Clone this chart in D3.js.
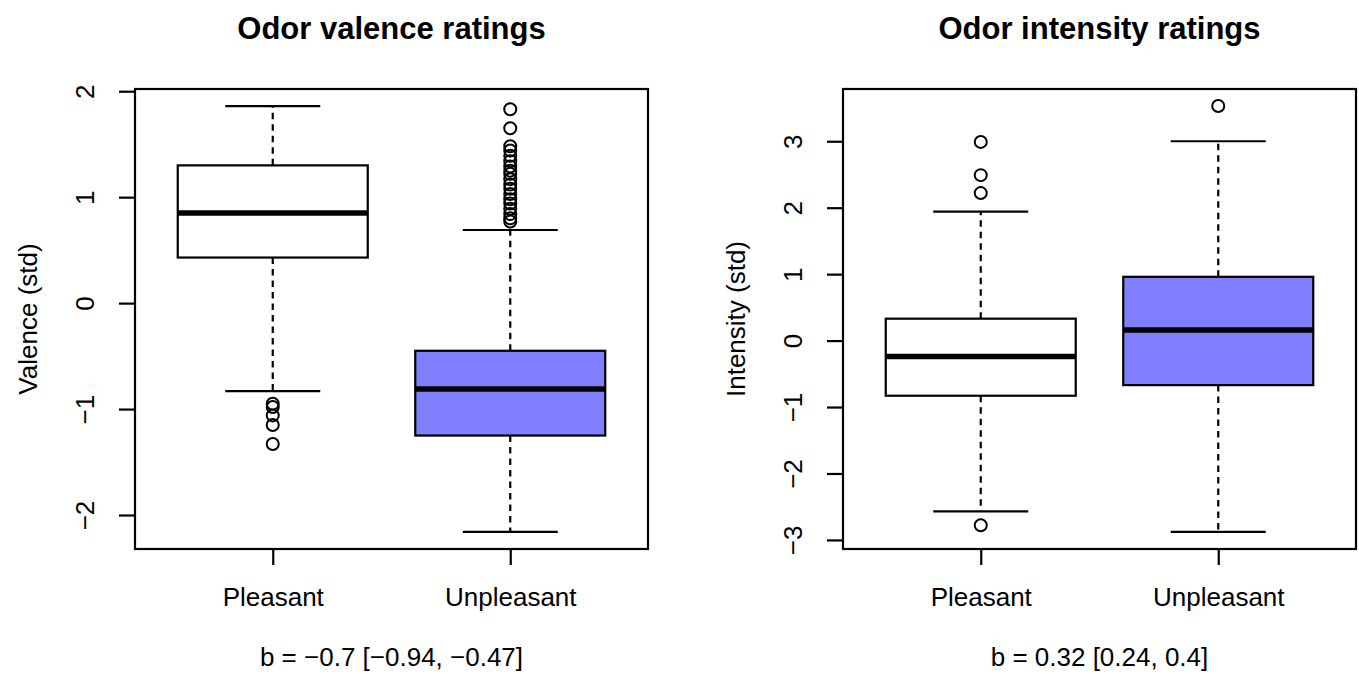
<!DOCTYPE html>
<html>
<head>
<meta charset="utf-8">
<title>Odor ratings</title>
<script src="https://cdn.jsdelivr.net/npm/d3@7"></script>
<style>
	body { margin: 0; background: #fff; }
	svg text { font-family: 'Liberation Sans', Arial, Helvetica, sans-serif; fill: #000; }
</style>
</head>
<body>
<svg id="chart"></svg>
<script>
/* global d3 */

// Groups, shared by both panels.
const groupLabels = [ 'Pleasant', 'Unpleasant' ];

// Valence panel: five-number summaries per group (Pleasant, Unpleasant).
const valenceLowerWhisker = [ -0.83, -2.16 ];
const valenceQ1 = [ 0.43, -1.25 ];
const valenceMedian = [ 0.85, -0.81 ];
const valenceQ3 = [ 1.30, -0.45 ];
const valenceUpperWhisker = [ 1.86, 0.69 ];
const valencePleasantOutliers = [ -0.95, -0.98, -1.06, -1.15, -1.33 ];
const valenceUnpleasantOutliers = [
	1.83, 1.65, 1.48, 1.44, 1.39, 1.34, 1.29, 1.25, 1.22, 1.17,
	1.12, 1.08, 1.03, 0.98, 0.94, 0.89, 0.84, 0.80, 0.77,
];
const valenceTicks = [ -2, -1, 0, 1, 2 ];

// Intensity panel.
const intensityLowerWhisker = [ -2.57, -2.88 ];
const intensityQ1 = [ -0.83, -0.67 ];
const intensityMedian = [ -0.24, 0.16 ];
const intensityQ3 = [ 0.33, 0.96 ];
const intensityUpperWhisker = [ 1.94, 3.0 ];
const intensityPleasantOutliers = [ 2.99, 2.49, 2.22, -2.78 ];
const intensityUnpleasantOutliers = [ 3.53 ];
const intensityTicks = [ -3, -2, -1, 0, 1, 2, 3 ];

/**
 * Single R-style boxplot panel
 */
class BoxplotPanel {
	/**
	 * @param {Object} svg     - D3 selection of the root svg
	 * @param {Object} options - Panel data and labels
	 */
	constructor( svg, options ) {
		this.svg = svg;
		this.options = options;
		this.config = {
			top: 89,
			bottom: 549,
			width: 513,
			boxWex: 0.8,
			fills: [ '#ffffff', '#8080ff' ],
		};

		this.g = svg.append( 'g' )
			.attr( 'transform', `translate(${ options.left },0)` );

		this.setupScales();
		this.renderBoxes();
		this.renderAxes();
		this.renderLabels();
	}

	/**
	 * Scales padded by 4% like R does
	 */
	setupScales() {
		const { top, bottom, width } = this.config;
		const groups = this.options.groups;
		const values = groups.flatMap( ( d ) => [ d.lo, d.hi, ...d.outliers ] );
		const [ min, max ] = d3.extent( values );
		const pad = ( max - min ) * 0.04;

		this.y = d3.scaleLinear()
			.domain( [ min - pad, max + pad ] )
			.range( [ bottom, top ] );

		this.x = d3.scaleLinear()
			.domain( [ 0.42, groups.length + 0.58 ] )
			.range( [ 0, width ] );
	}

	/**
	 * Boxes, whiskers, staples and outliers
	 */
	renderBoxes() {
		const { boxWex, fills } = this.config;
		const x = this.x;
		const y = this.y;
		const half = ( x( 1 + boxWex ) - x( 1 ) ) / 2;

		const box = this.g.selectAll( 'g.box' )
			.data( this.options.groups )
			.enter()
			.append( 'g' )
			.attr( 'class', 'box' );

		// dashed whiskers
		[ [ 'q3', 'hi' ], [ 'q1', 'lo' ] ].forEach( ( [ from, to ] ) => {
			box.append( 'line' )
				.attr( 'x1', ( d ) => x( d.pos ) )
				.attr( 'x2', ( d ) => x( d.pos ) )
				.attr( 'y1', ( d ) => y( d[ from ] ) )
				.attr( 'y2', ( d ) => y( d[ to ] ) )
				.attr( 'stroke', '#000' )
				.attr( 'stroke-width', 2.2 )
				.attr( 'stroke-dasharray', '6.5,5' );

			box.append( 'line' )
				.attr( 'x1', ( d ) => x( d.pos ) - half / 2 )
				.attr( 'x2', ( d ) => x( d.pos ) + half / 2 )
				.attr( 'y1', ( d ) => y( d[ to ] ) )
				.attr( 'y2', ( d ) => y( d[ to ] ) )
				.attr( 'stroke', '#000' )
				.attr( 'stroke-width', 2.2 );
		} );

		box.append( 'rect' )
			.attr( 'x', ( d ) => x( d.pos ) - half )
			.attr( 'y', ( d ) => y( d.q3 ) )
			.attr( 'width', half * 2 )
			.attr( 'height', ( d ) => y( d.q1 ) - y( d.q3 ) )
			.attr( 'fill', ( d, i ) => fills[ i ] )
			.attr( 'stroke', '#000' )
			.attr( 'stroke-width', 2.2 );

		box.append( 'line' )
			.attr( 'x1', ( d ) => x( d.pos ) - half )
			.attr( 'x2', ( d ) => x( d.pos ) + half )
			.attr( 'y1', ( d ) => y( d.med ) )
			.attr( 'y2', ( d ) => y( d.med ) )
			.attr( 'stroke', '#000' )
			.attr( 'stroke-width', 5.5 );

		box.selectAll( 'circle' )
			.data( ( d ) => d.outliers.map( ( v ) => ( { pos: d.pos, v } ) ) )
			.enter()
			.append( 'circle' )
			.attr( 'cx', ( d ) => x( d.pos ) )
			.attr( 'cy', ( d ) => y( d.v ) )
			.attr( 'r', 6 )
			.attr( 'fill', 'none' )
			.attr( 'stroke', '#000' )
			.attr( 'stroke-width', 2 );
	}

	/**
	 * Frame and both axes
	 */
	renderAxes() {
		const { top, bottom, width } = this.config;
		const groups = this.options.groups;

		this.g.append( 'rect' )
			.attr( 'x', 0 )
			.attr( 'y', top )
			.attr( 'width', width )
			.attr( 'height', bottom - top )
			.attr( 'fill', 'none' )
			.attr( 'stroke', '#000' )
			.attr( 'stroke-width', 2.2 );

		const yAxis = this.g.append( 'g' )
			.call( d3.axisLeft( this.y )
				.tickValues( this.options.ticks )
				.tickFormat( d3.format( 'd' ) )
				.tickSize( 16 )
				.tickSizeOuter( 0 ) );

		yAxis.select( '.domain' ).remove();
		yAxis.selectAll( 'line' ).attr( 'stroke-width', 2.2 );
		yAxis.selectAll( 'text' )
			.attr( 'x', null )
			.attr( 'dy', '0.36em' )
			.attr( 'transform', 'translate(-50,0) rotate(-90)' )
			.attr( 'text-anchor', 'middle' )
			.style( 'font-size', '26px' )
			.style( 'font-family', null );

		const xAxis = this.g.append( 'g' )
			.attr( 'transform', `translate(0,${ bottom })` )
			.call( d3.axisBottom( this.x )
				.tickValues( groups.map( ( d ) => d.pos ) )
				.tickFormat( ( d, i ) => groups[ i ].label )
				.tickSize( 16 )
				.tickPadding( 23 )
				.tickSizeOuter( 0 ) );

		xAxis.select( '.domain' ).remove();
		xAxis.selectAll( 'line' ).attr( 'stroke-width', 2.2 );
		xAxis.selectAll( 'text' )
			.style( 'font-size', '26px' )
			.style( 'font-family', null );
	}

	/**
	 * Title, y label and the estimate line under the plot
	 */
	renderLabels() {
		const { top, bottom, width } = this.config;
		const mid = width / 2;

		this.g.append( 'text' )
			.attr( 'x', mid )
			.attr( 'y', 39 )
			.attr( 'text-anchor', 'middle' )
			.style( 'font-size', '31px' )
			.style( 'font-weight', 'bold' )
			.text( this.options.title );

		this.g.append( 'text' )
			.attr( 'transform', `translate(-107,${ ( top + bottom ) / 2 }) rotate(-90)` )
			.attr( 'dy', '0.36em' )
			.attr( 'text-anchor', 'middle' )
			.style( 'font-size', '26px' )
			.text( this.options.yLabel );

		this.g.append( 'text' )
			.attr( 'x', mid )
			.attr( 'y', 666 )
			.attr( 'text-anchor', 'middle' )
			.style( 'font-size', '26px' )
			.text( this.options.note );
	}
}

/**
 * Build per-group records from the flat arrays
 *
 * @param {Array} lo       - Lower whisker ends
 * @param {Array} q1       - First quartiles
 * @param {Array} med      - Medians
 * @param {Array} q3       - Third quartiles
 * @param {Array} hi       - Upper whisker ends
 * @param {Array} outliers - Outlier arrays, one per group
 * @return {Array} groups
 */
function buildGroups( lo, q1, med, q3, hi, outliers ) {
	return groupLabels.map( ( label, i ) => ( {
		label,
		pos: i + 1,
		lo: lo[ i ],
		q1: q1[ i ],
		med: med[ i ],
		q3: q3[ i ],
		hi: hi[ i ],
		outliers: outliers[ i ],
	} ) );
}

const svg = d3.select( '#chart' )
	.attr( 'width', 1359 )
	.attr( 'height', 674 )
	.style( 'background', '#fff' );

new BoxplotPanel( svg, {
	left: 135,
	title: 'Odor valence ratings',
	yLabel: 'Valence (std)',
	note: 'b = \u22120.7 [\u22120.94, \u22120.47]',
	ticks: valenceTicks,
	groups: buildGroups(
		valenceLowerWhisker, valenceQ1, valenceMedian, valenceQ3, valenceUpperWhisker,
		[ valencePleasantOutliers, valenceUnpleasantOutliers ]
	),
} );

new BoxplotPanel( svg, {
	left: 843,
	title: 'Odor intensity ratings',
	yLabel: 'Intensity (std)',
	note: 'b = 0.32 [0.24, 0.4]',
	ticks: intensityTicks,
	groups: buildGroups(
		intensityLowerWhisker, intensityQ1, intensityMedian, intensityQ3, intensityUpperWhisker,
		[ intensityPleasantOutliers, intensityUnpleasantOutliers ]
	),
} );
</script>
</body>
</html>
